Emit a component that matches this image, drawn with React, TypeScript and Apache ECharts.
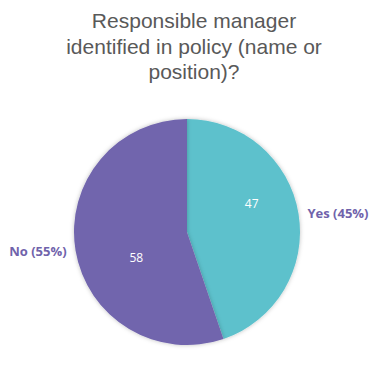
import React, { useEffect, useRef } from "react";
import * as echarts from "echarts";

const titleLines = ["Responsible manager", "identified in policy (name or", "position)?"];
const categories = ["Yes", "No"];
const values = [47, 58];
const colors = ["#5DC1CC", "#7165AD"];

export default function App() {
  const ref = useRef<HTMLDivElement>(null);
  useEffect(() => {
    if (!ref.current) return;
    const chart = echarts.init(ref.current, undefined, { renderer: "svg" });
    const total = values.reduce((a, b) => a + b, 0);
    const insideOffsets = [[6, -19], [8, 16]];
    const center = [187, 232];
    const radius = 113;
    chart.setOption({
      animation: false,
      title: {
        text: titleLines.join("\n"),
        left: "center",
        top: 3,
        padding: [5, 19, 5, 5],
        textStyle: {
          fontFamily: "Liberation Sans, Arial, sans-serif",
          fontSize: 21,
          lineHeight: 25.5,
          fontWeight: "normal",
          color: "#595959",
        },
      },
      series: [
        {
          type: "pie",
          center,
          radius,
          startAngle: 90,
          clockwise: true,
          itemStyle: {
            borderWidth: 0,
            shadowBlur: 4,
            shadowColor: "rgba(0,0,0,0.25)",
          },
          label: {
            show: true,
            position: "inside",
            formatter: "{c}",
            color: "#ffffff",
            fontFamily: "Open Sans, sans-serif",
            fontSize: 12,
          },
          labelLine: { show: false },
          data: categories.map((c, i) => ({
            name: c,
            value: values[i],
            itemStyle: { color: colors[i] },
            label: { offset: insideOffsets[i] },
          })),
        },
        {
          type: "pie",
          center,
          radius,
          startAngle: 90,
          clockwise: true,
          silent: true,
          itemStyle: { color: "rgba(0,0,0,0)" },
          label: {
            show: true,
            position: "outside",
            formatter: (p: any) => `${p.name} (${Math.round((p.value / total) * 100)}%)`,
            color: "#7063AB",
            fontFamily: "Open Sans, sans-serif",
            fontWeight: "bold",
            fontSize: 13,
            overflow: "none",
            bleedMargin: 0,
          },
          labelLine: { show: false, length: 2, length2: 2 },
          data: categories.map((c, i) => ({ name: c, value: values[i] })),
        },
      ],
    });
    return () => chart.dispose();
  }, []);
  return (
    <div
      ref={ref}
      style={{ position: "fixed", left: 0, top: 0, width: 388, height: 376, background: "#ffffff" }}
    />
  );
}
